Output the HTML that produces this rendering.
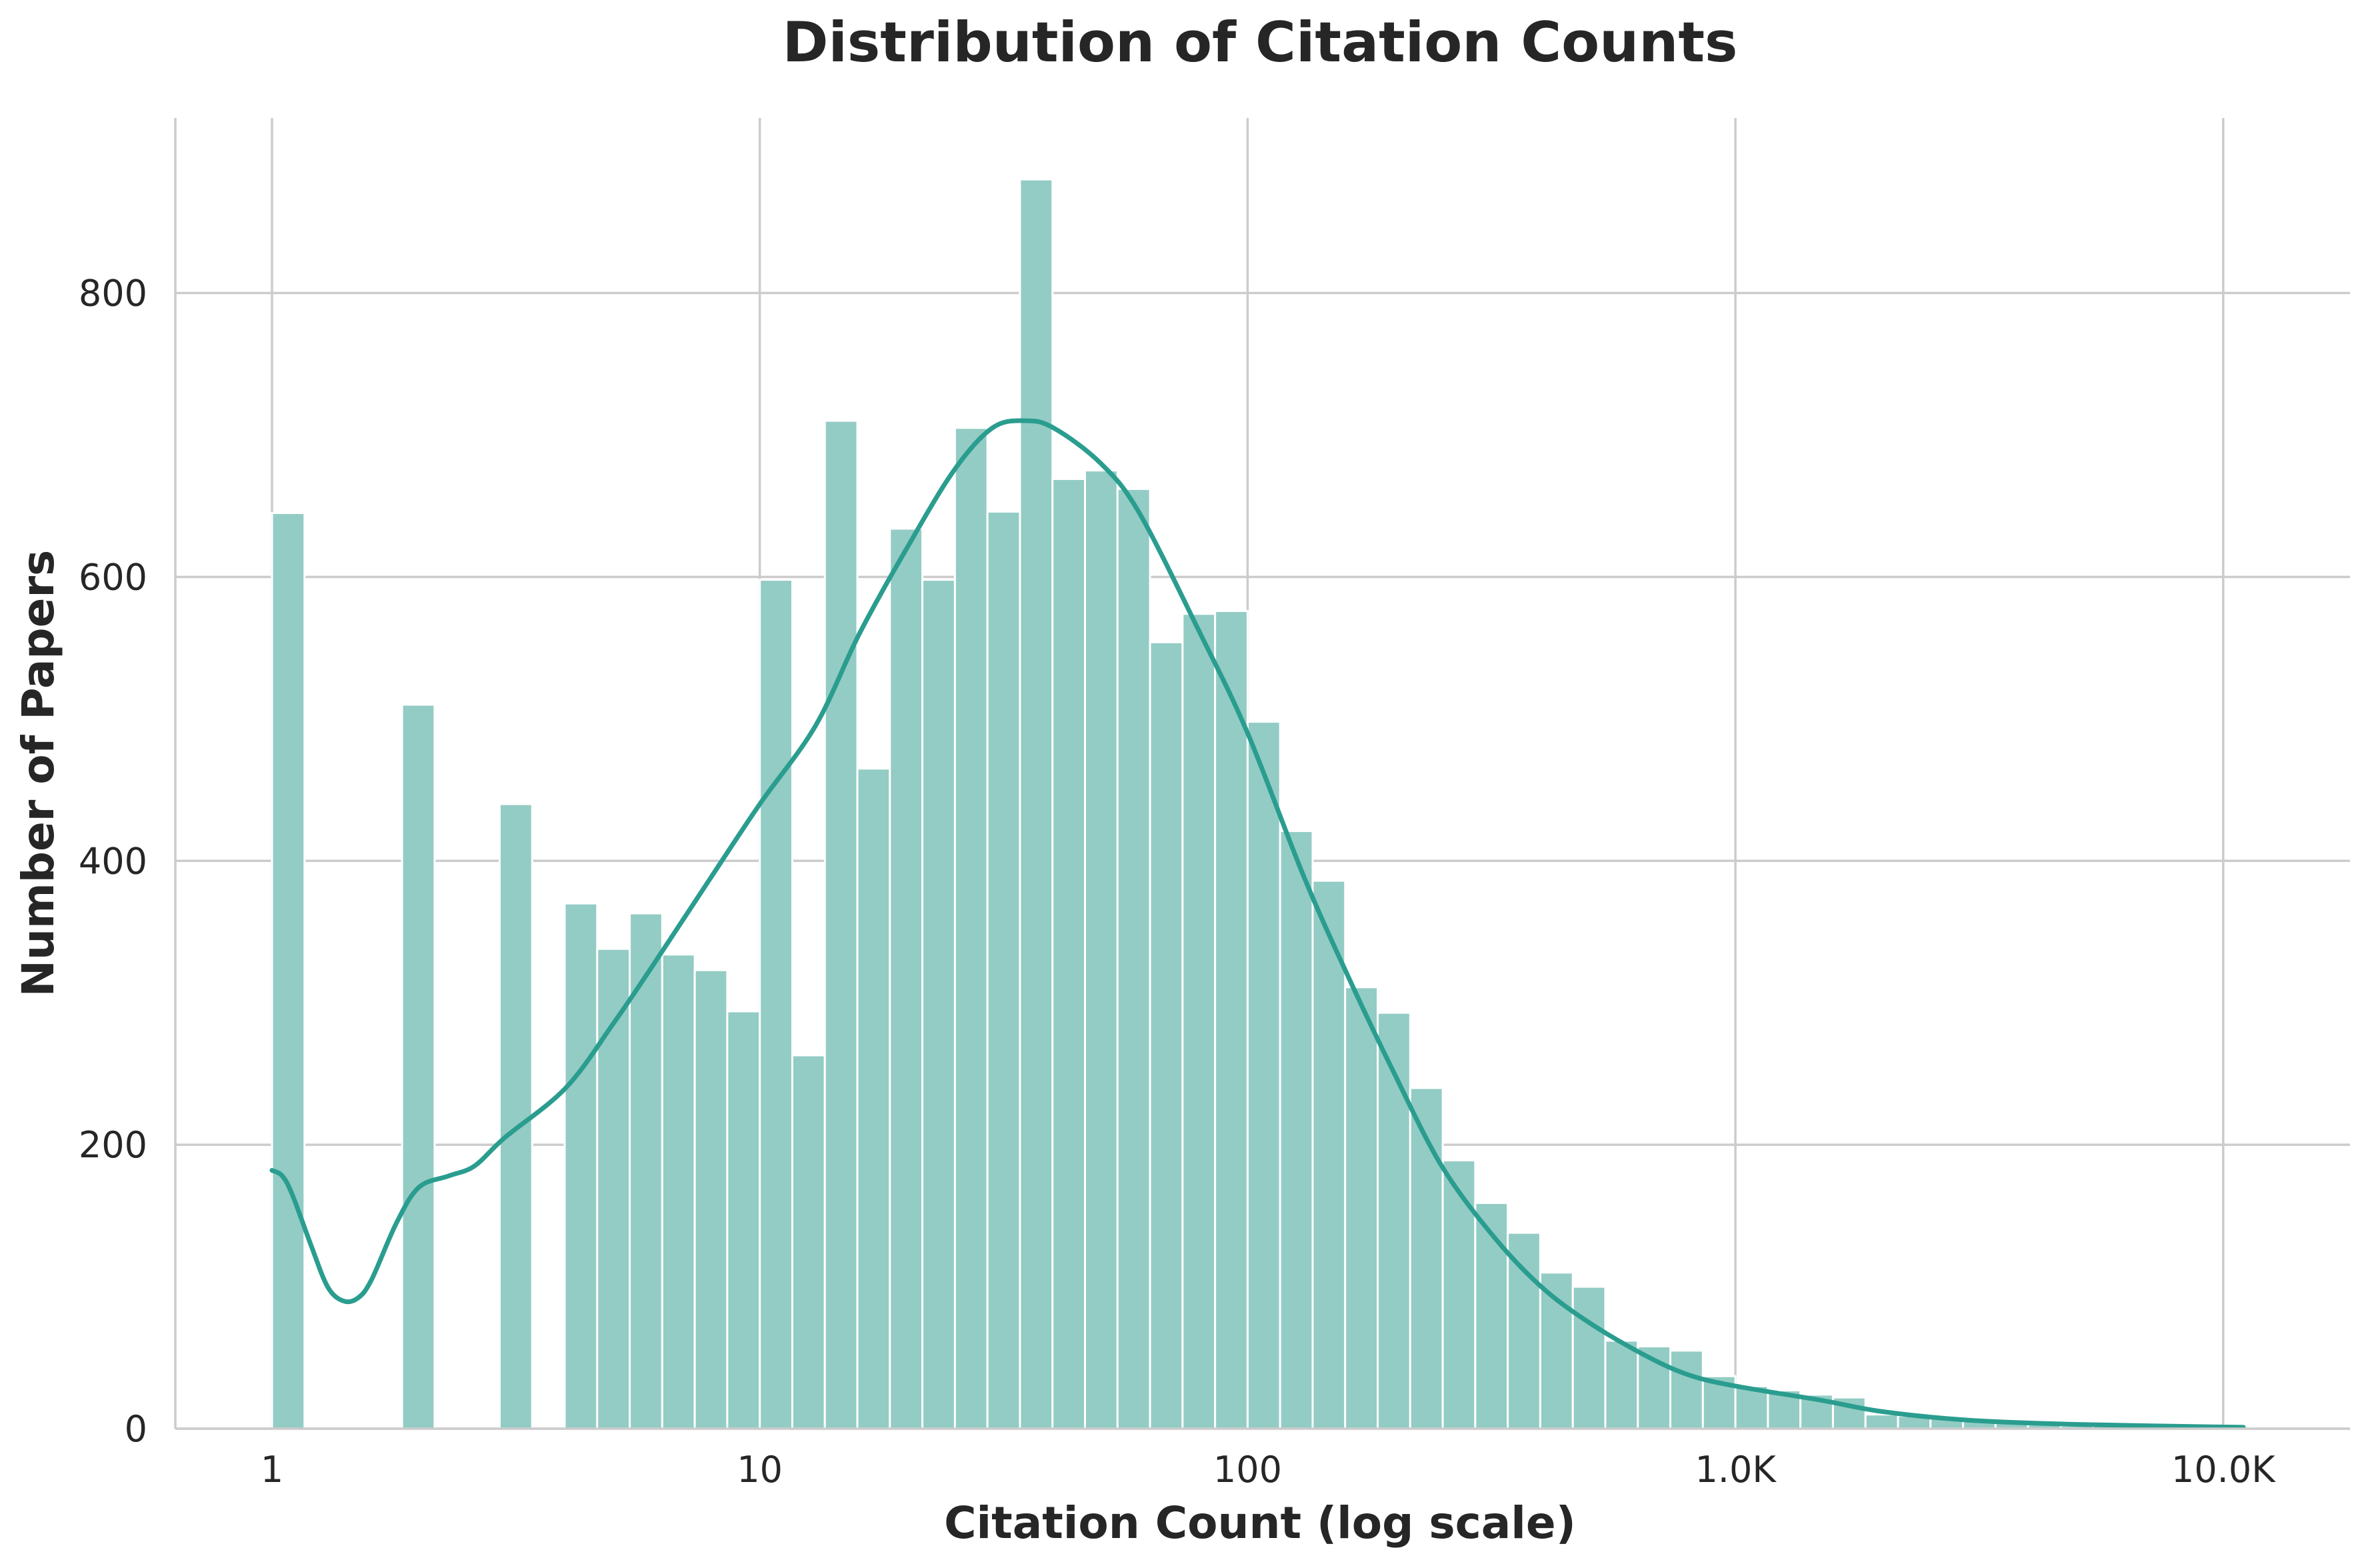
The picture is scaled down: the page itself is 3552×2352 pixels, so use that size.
<!DOCTYPE html>
<html><head><meta charset="utf-8"><style>
html,body{margin:0;padding:0;background:#fff;}
svg{display:block;font-family:"DejaVu Sans","Liberation Sans",sans-serif;}
</style></head><body>
<svg id="chart" width="3552" height="2352" viewBox="0 0 3552 2352" xmlns="http://www.w3.org/2000/svg">
<rect width="3552" height="2352" fill="#fff"/>
<text x="1890" y="92" text-anchor="middle" font-size="83" font-weight="bold" fill="#262626">Distribution of Citation Counts</text>
<g id="grid"></g>
<g id="bars"></g>
<g id="kde"></g>
<g id="axes"></g>
<text x="1890" y="2307" text-anchor="middle" font-size="66" font-weight="bold" fill="#262626">Citation Count (log scale)</text>
<text transform="translate(80,1160) rotate(-90)" text-anchor="middle" font-size="66" font-weight="bold" fill="#262626">Number of Papers</text>
</svg>
<script>
const binCounts = [645,0,0,0,510,0,0,440,0,370,338,363,334,323,294,598,263,710,465,634,598,705,646,880,669,675,662,554,574,576,498,421,386,311,293,240,189,159,138,110,100,62,58,55,37,30,27,24,22,10,9,7,6,4,3,2,2,1,1,1,1];
const binsPerDecade = 15;
const kdeX = [1,1.05,1.1,1.2,1.3,1.4,1.5,1.6,1.8,2,2.3,2.6,3,4,5,6,8,10,13,16,20,25,30,35,40,50,60,80,100,130,160,200,250,320,400,500,650,800,1000,1500,2000,3000,5000,11000];
const kdeY = [182,178,165,130,100,90,92,105,145,170,178,185,205,240,285,325,390,440,495,560,620,675,705,710,705,680,645,560,490,390,320,250,185,135,100,75,52,38,30,20,12,6,3,1];
const yTicks = [0,200,400,600,800];
const xTicks = [1,10,100,1000,10000];
const xTickLabels = ["1","10","100","1.0K","10.0K"];

const NS="http://www.w3.org/2000/svg";
const L=263,R=3525,T=177,B=2143;
const x0=408,dec=731.7;
const xs=v=>x0+Math.log10(v)*dec;
const ys=v=>B-v*(B-439.5)/800;
function mk(p,tag,a){const e=document.createElementNS(NS,tag);for(const k in a)e.setAttribute(k,a[k]);document.getElementById(p).appendChild(e);return e;}

yTicks.forEach(v=>{
  const l=mk('grid','line',{x1:L,x2:R,y1:ys(v),y2:ys(v),stroke:'#cccccc','stroke-width':3.5});
  
  
  const t=mk('axes','text',{x:L-42,y:ys(v)+19,'text-anchor':'end','font-size':54,fill:'#262626'});
  t.textContent=v;
  
  
});
xTicks.forEach((v,i)=>{
  const l=mk('grid','line',{x1:xs(v),x2:xs(v),y1:T,y2:B,stroke:'#cccccc','stroke-width':3.5});
  
  
  const t=mk('axes','text',{x:xs(v),y:B+80,'text-anchor':'middle','font-size':54,fill:'#262626'});
  t.textContent=xTickLabels[i];
  
  
});
binCounts.forEach((c,k)=>{
  if(c<=0)return;
  const a=xs(Math.pow(10,k/binsPerDecade)),b=xs(Math.pow(10,(k+1)/binsPerDecade));
  const r=mk('bars','rect',{x:a,y:ys(c),width:b-a,height:B-ys(c),fill:'#93ccc4',stroke:'#ffffff','stroke-width':3});
  
  
});
const P=kdeX.map((v,i)=>[xs(v),ys(kdeY[i])]);
let d='M'+P[0][0].toFixed(1)+','+P[0][1].toFixed(1);
for(let i=0;i<P.length-1;i++){
  const p0=P[Math.max(0,i-1)],p1=P[i],p2=P[i+1],p3=P[Math.min(P.length-1,i+2)];
  const c1=[p1[0]+(p2[0]-p0[0])/6,p1[1]+(p2[1]-p0[1])/6];
  const c2=[p2[0]-(p3[0]-p1[0])/6,p2[1]-(p3[1]-p1[1])/6];
  d+=' C'+c1.map(n=>n.toFixed(1)).join(',')+' '+c2.map(n=>n.toFixed(1)).join(',')+' '+p2.map(n=>n.toFixed(1)).join(',');
}
const p=mk('kde','path',{d:d,fill:'none',stroke:'#2a9d8f','stroke-width':7,'stroke-linejoin':'round','stroke-linecap':'round'});


const ly=mk('axes','line',{x1:L,x2:L,y1:T,y2:B,stroke:'#cccccc','stroke-width':3.5});


const lx=mk('axes','line',{x1:L,x2:R,y1:B,y2:B,stroke:'#cccccc','stroke-width':3.5});


</script>
</body></html>
